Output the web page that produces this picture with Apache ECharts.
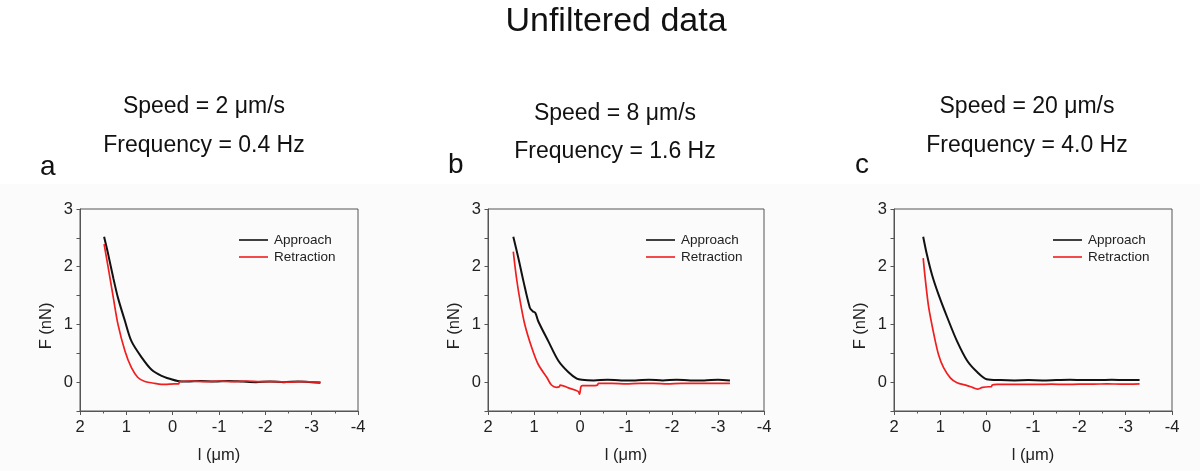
<!DOCTYPE html>
<html>
<head>
<meta charset="utf-8">
<script src="https://cdn.jsdelivr.net/npm/echarts@6/dist/echarts.min.js"></script>
<style>html,body{margin:0;padding:0;background:#fff}#c{width:1200px;height:471px}</style>
</head>
<body>
<div id="c"></div>
<script>
// ---- Data ----
const mainTitle = 'Unfiltered data';
const panelLetters = ['a', 'b', 'c'];
const speedLabels = ['Speed = 2 μm/s', 'Speed = 8 μm/s', 'Speed = 20 μm/s'];
const freqLabels = ['Frequency = 0.4 Hz', 'Frequency = 1.6 Hz', 'Frequency = 4.0 Hz'];
const seriesNames = ['Approach', 'Retraction'];
const xTickMin = -4, xTickMax = 2;
const yTickMin = -0.5, yTickMax = 3;

// Panel a
const aApproachX = [1.48, 1.39, 1.28, 1.18, 1.03, 0.89, 0.67, 0.46, 0.24, 0.03, -0.11, -0.3, -0.6, -0.9, -1.2, -1.5, -1.8, -2.1, -2.4, -2.7, -3.0, -3.19];
const aApproachY = [2.52, 2.21, 1.80, 1.46, 1.06, 0.71, 0.43, 0.22, 0.11, 0.05, 0.02, 0.01, 0.02, 0.01, 0.02, 0.01, 0.0, 0.01, 0.0, 0.01, 0.0, -0.01];
const aRetractX = [1.48, 1.39, 1.28, 1.18, 1.03, 0.89, 0.75, 0.60, 0.39, 0.17, -0.04, -0.13, -0.15, -0.4, -0.7, -1.0, -1.3, -1.6, -1.9, -2.2, -2.5, -2.8, -3.19];
const aRetractY = [2.39, 1.98, 1.46, 1.00, 0.54, 0.25, 0.08, 0.01, -0.02, -0.04, -0.03, -0.03, 0.01, 0.02, 0.01, 0.02, 0.01, 0.02, 0.01, 0.01, 0.0, 0.01, 0.0];

// Panel b
const bApproachX = [1.45, 1.34, 1.23, 1.09, 1.03, 0.97, 0.91, 0.69, 0.47, 0.25, 0.07, -0.04, -0.3, -0.6, -0.9, -1.2, -1.5, -1.8, -2.1, -2.4, -2.7, -3.0, -3.26];
const bApproachY = [2.52, 2.15, 1.75, 1.29, 1.23, 1.20, 1.06, 0.71, 0.37, 0.17, 0.06, 0.04, 0.03, 0.04, 0.03, 0.03, 0.04, 0.03, 0.04, 0.03, 0.03, 0.04, 0.03];
const bRetractX = [1.45, 1.38, 1.30, 1.20, 1.05, 0.91, 0.72, 0.62, 0.51, 0.45, 0.43, 0.25, 0.04, 0.01, -0.02, -0.05, -0.33, -0.38, -0.40, -0.7, -1.0, -1.3, -1.6, -1.9, -2.2, -2.5, -2.8, -3.1, -3.26];
const bRetractY = [2.26, 1.80, 1.40, 1.00, 0.60, 0.31, 0.08, -0.05, -0.09, -0.08, -0.05, -0.10, -0.16, -0.21, -0.08, -0.06, -0.06, -0.05, -0.02, -0.02, -0.03, -0.02, -0.02, -0.03, -0.02, -0.02, -0.02, -0.02, -0.02];

// Panel c
const cApproachX = [1.37, 1.29, 1.18, 1.04, 0.85, 0.64, 0.42, 0.20, 0.0, -0.3, -0.6, -0.9, -1.2, -1.5, -1.8, -2.1, -2.4, -2.7, -3.0, -3.30];
const cApproachY = [2.52, 2.21, 1.86, 1.52, 1.12, 0.71, 0.37, 0.17, 0.05, 0.035, 0.03, 0.035, 0.03, 0.035, 0.04, 0.035, 0.035, 0.04, 0.035, 0.035];
const cRetractX = [1.37, 1.32, 1.25, 1.14, 1.04, 0.93, 0.78, 0.64, 0.42, 0.31, 0.20, 0.09, -0.05, -0.10, -0.12, -0.22, -0.5, -0.8, -1.1, -1.4, -1.7, -2.0, -2.3, -2.6, -2.9, -3.30];
const cRetractY = [2.15, 1.75, 1.29, 0.83, 0.48, 0.25, 0.07, -0.01, -0.06, -0.09, -0.12, -0.09, -0.08, -0.08, -0.05, -0.04, -0.04, -0.04, -0.04, -0.035, -0.04, -0.035, -0.035, -0.03, -0.035, -0.03];

// ---- Build chart ----
function pairs(xs, ys) { return xs.map((x, i) => [x, ys[i]]); }
const panels = [
  { ax: aApproachX, ay: aApproachY, rx: aRetractX, ry: aRetractY },
  { ax: bApproachX, ay: bApproachY, rx: bRetractX, ry: bRetractY },
  { ax: cApproachX, ay: cApproachY, rx: cRetractX, ry: cRetractY }
];
const FONT = '"Liberation Sans", Arial, sans-serif';
const gridBoxes = [
  { left: 80, top: 209, width: 278, height: 202 },
  { left: 488, top: 209, width: 276, height: 202 },
  { left: 894, top: 209, width: 278, height: 202 }
];
const legendLeft = [239, 646, 1053];
const headCenterX = [204, 615, 1027];
const speedY = [107, 114, 107];
const freqY = [146, 151.5, 146];
const letterX = [40, 448, 855];
const letterY = [167, 165.5, 165];
const axisColor = '#555';
const textColor = '#222';

const grid = [], xAxis = [], yAxis = [], series = [], legend = [];
panels.forEach((p, i) => {
  grid.push(Object.assign({ show: true, borderColor: axisColor, borderWidth: 1, backgroundColor: 'transparent' }, gridBoxes[i]));
  xAxis.push({
    gridIndex: i, type: 'value', min: xTickMin, max: xTickMax, interval: 1, inverse: true,
    name: 'l (μm)', nameLocation: 'middle', nameGap: 36,
    nameTextStyle: { fontFamily: FONT, fontSize: 16.5, color: textColor },
    axisLine: { show: true, onZero: false, lineStyle: { color: axisColor, width: 1 } },
    axisTick: { show: true, inside: false, length: 4, lineStyle: { color: axisColor } },
    minorTick: { show: true, splitNumber: 2, length: 2.5, lineStyle: { color: axisColor } },
    axisLabel: { fontFamily: FONT, fontSize: 16.5, color: textColor, margin: 8 },
    splitLine: { show: false }
  });
  yAxis.push({
    gridIndex: i, type: 'value', min: yTickMin, max: yTickMax, interval: 0.5,
    name: 'F (nN)', nameLocation: 'middle', nameGap: 25,
    nameTextStyle: { fontFamily: FONT, fontSize: 16.5, color: textColor, padding: [0, 32, 0, 0] },
    axisLine: { show: true, onZero: false, lineStyle: { color: axisColor, width: 1 } },
    axisTick: { show: true, inside: false, length: 3.5, lineStyle: { color: axisColor } },
    axisLabel: {
      fontFamily: FONT, fontSize: 16.5, color: textColor, margin: 7,
      formatter: v => (Math.abs(v - Math.round(v)) < 1e-6 ? String(Math.round(v)) : '')
    },
    splitLine: { show: false }
  });
  series.push({
    name: seriesNames[0], type: 'line', xAxisIndex: i, yAxisIndex: i,
    data: pairs(p.ax, p.ay), showSymbol: false, smooth: 0.3, z: 2,
    lineStyle: { color: '#111', width: 2 }, itemStyle: { color: '#111' }
  });
  series.push({
    name: seriesNames[1], type: 'line', xAxisIndex: i, yAxisIndex: i,
    data: pairs(p.rx, p.ry), showSymbol: false, smooth: 0.3, z: 3,
    lineStyle: { color: '#f01e1e', width: 1.7 }, itemStyle: { color: '#f01e1e' }
  });
  legend.push({
    data: seriesNames.slice(), orient: 'vertical', left: legendLeft[i], top: 233, padding: 0,
    icon: 'rect', itemWidth: 29, itemHeight: 1.6, itemGap: 3, selectedMode: false,
    textStyle: { fontFamily: FONT, fontSize: 13.5, color: textColor, padding: [0, 0, 0, 1] }
  });
});

const graphic = [
  { type: 'rect', z: -10, silent: true, shape: { x: 0, y: 184, width: 1200, height: 287 }, style: { fill: '#fbfbfb' } },
  { type: 'text', x: 616, y: 22, style: { text: mainTitle, fontFamily: FONT, fontSize: 34, fill: '#111', textAlign: 'center', textVerticalAlign: 'middle' } }
];
for (let i = 0; i < 3; i++) {
  graphic.push({ type: 'text', x: headCenterX[i], y: speedY[i], style: { text: speedLabels[i], fontFamily: FONT, fontSize: 23, fill: '#111', textAlign: 'center', textVerticalAlign: 'middle' } });
  graphic.push({ type: 'text', x: headCenterX[i], y: freqY[i], style: { text: freqLabels[i], fontFamily: FONT, fontSize: 23, fill: '#111', textAlign: 'center', textVerticalAlign: 'middle' } });
  graphic.push({ type: 'text', x: letterX[i], y: letterY[i], style: { text: panelLetters[i], fontFamily: FONT, fontSize: 28, fill: '#111', textAlign: 'left', textVerticalAlign: 'middle' } });
}

const chart = echarts.init(document.getElementById('c'), null, { renderer: 'canvas' });
chart.setOption({
  animation: false,
  backgroundColor: '#ffffff',
  grid, xAxis, yAxis, series, legend, graphic
});
</script>
</body>
</html>
